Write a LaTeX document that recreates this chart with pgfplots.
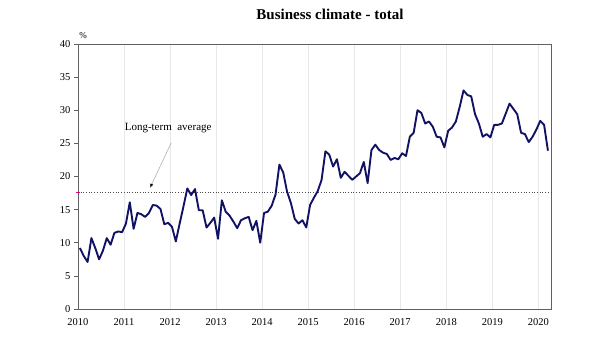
\documentclass[border=0pt]{standalone}
\usepackage{pgfplots}
\pgfplotsset{compat=1.18}
\usepackage{fontspec}
\setmainfont{Liberation Serif}
\usetikzlibrary{arrows.meta}
\definecolor{navy}{RGB}{18,18,100}
\begin{document}
\begin{tikzpicture}
\useasboundingbox (-78pt,-54pt) rectangle (522pt,309pt);
\begin{axis}[
  at={(0pt,0pt)}, anchor=south west,
  width=473pt, height=265pt, scale only axis,
  xmin=0, xmax=123.3, ymin=0, ymax=40,
  xtick={0,12,...,120},
  xticklabels={2010,2011,2012,2013,2014,2015,2016,2017,2018,2019,2020},
  ytick={0,5,...,40},
  ytick pos=left,
  xmajorgrids, grid style={gray!18, line width=0.6pt},
  axis line style={gray!75!black, line width=0.6pt},
  xtick style={draw=none},
  ytick style={gray!75!black, line width=0.6pt},
  tick align=outside, major tick length=4pt,
  /pgf/number format/assume math mode=true,
  ticklabel style={font=\fontsize{10.5}{12}\selectfont},
  xticklabel style={yshift=-2pt},
  clip=false,
]
\addplot[dotted, gray!60!black, line width=0.7pt] coordinates {(0,17.6) (123.3,17.6)};
\addplot[only marks, mark=-, mark size=2pt, magenta, line width=0.8pt] coordinates {(0,17.6)};
\addplot[navy, line width=1.9pt, line join=round] table {
x y
0.5 9.2
1.5 8.0
2.5 7.1
3.5 10.7
4.5 9.2
5.5 7.5
6.5 8.8
7.5 10.7
8.5 9.7
9.5 11.5
10.5 11.7
11.5 11.6
12.5 12.9
13.5 16.1
14.5 12.1
15.5 14.5
16.5 14.3
17.5 13.9
18.5 14.5
19.5 15.7
20.5 15.6
21.5 15.1
22.5 12.8
23.5 13.0
24.5 12.4
25.5 10.2
26.5 12.9
27.5 15.5
28.5 18.2
29.5 17.2
30.5 18.1
31.5 14.9
32.5 14.9
33.5 12.3
34.5 13.0
35.5 13.8
36.5 10.6
37.5 16.4
38.5 14.7
39.5 14.1
40.5 13.2
41.5 12.2
42.5 13.4
43.5 13.7
44.5 13.9
45.5 11.9
46.5 13.3
47.5 10.0
48.5 14.5
49.5 14.7
50.5 15.6
51.5 17.3
52.5 21.8
53.5 20.6
54.5 17.7
55.5 16.0
56.5 13.6
57.5 12.9
58.5 13.4
59.5 12.3
60.5 15.7
61.5 16.8
62.5 17.8
63.5 19.5
64.5 23.8
65.5 23.3
66.5 21.5
67.5 22.6
68.5 19.8
69.5 20.7
70.5 20.1
71.5 19.5
72.5 20.0
73.5 20.5
74.5 22.2
75.5 19.0
76.5 24.0
77.5 24.8
78.5 24.0
79.5 23.6
80.5 23.4
81.5 22.5
82.5 22.8
83.5 22.6
84.5 23.5
85.5 23.1
86.5 26.0
87.5 26.6
88.5 30.0
89.5 29.6
90.5 28.0
91.5 28.3
92.5 27.5
93.5 26.0
94.5 25.9
95.5 24.4
96.5 26.9
97.5 27.4
98.5 28.3
99.5 30.5
100.5 33.0
101.5 32.3
102.5 32.1
103.5 29.4
104.5 28.0
105.5 26.0
106.5 26.4
107.5 25.9
108.5 27.8
109.5 27.8
110.5 28.0
111.5 29.5
112.5 31.0
113.5 30.2
114.5 29.4
115.5 26.6
116.5 26.4
117.5 25.2
118.5 26.0
119.5 27.1
120.5 28.4
121.5 27.8
122.5 23.9
};
\draw[gray!70, line width=0.5pt, -{Latex[length=4pt,width=3pt,black]}] (axis cs:24.3,25.1) -- (axis cs:18.8,18.3);
\node[font=\fontsize{11}{13}\selectfont] at (axis cs:23.5,27.3) {Long-term\ \ average};
\end{axis}
\node[font=\fontsize{9}{10}\selectfont] at (5pt,273pt) {\%};
\node[font=\bfseries\fontsize{15}{17}\selectfont] at (252pt,295pt) {Business climate - total};
\end{tikzpicture}
\end{document}
